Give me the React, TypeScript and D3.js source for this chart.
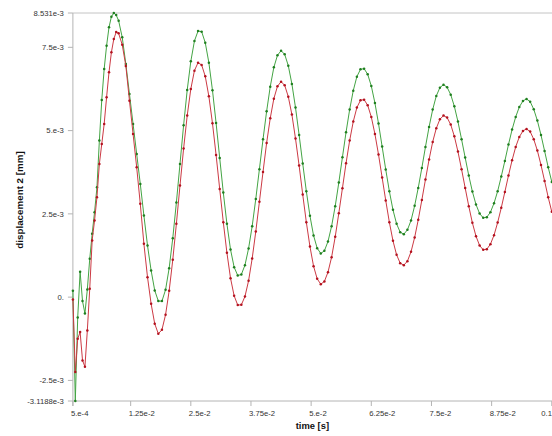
import React from "react";
import * as d3 from "d3";

// time axis (s): first part sampled every 5e-4 s, then every 7.5e-4 s
const timeEarly: number[] = d3.range(20).map((i) => 5e-4 + i * 5e-4);
const timeLate: number[] = d3.range(120).map((j) => 0.01075 + j * 7.5e-4);
const time: number[] = [...timeEarly, ...timeLate];

// displacement values in units of 1e-3 mm
const greenEarly = [0.19, -3.1188, -0.61, 0.76, -0.12, -0.49, 0.23, 1.15, 1.9, 2.55, 3.3, 4.7, 5.92, 6.85, 7.55, 8.1, 8.42, 8.531, 8.47, 8.3];
const greenLate = [
  7.8, 7.0, 6.1, 5.2, 4.3, 3.4, 2.45, 1.55, 0.8, 0.2, -0.12,
  -0.12, 0.22, 0.87, 1.77, 2.84, 4.0, 5.16, 6.22, 7.08, 7.69, 7.99,
  7.97, 7.64, 7.04, 6.21, 5.23, 4.18, 3.14, 2.2, 1.43, 0.9, 0.65,
  0.68, 0.96, 1.46, 2.13, 2.95, 3.84, 4.74, 5.58, 6.32, 6.9, 7.26, 7.4,
  7.29, 6.95, 6.4, 5.69, 4.87, 4.01, 3.18, 2.44, 1.85, 1.47, 1.31,
  1.39, 1.67, 2.13, 2.73, 3.44, 4.2, 4.95, 5.63, 6.2, 6.62, 6.84,
  6.86, 6.69, 6.34, 5.83, 5.21, 4.52, 3.83, 3.18, 2.62, 2.2, 1.95,
  1.89, 2.02, 2.3, 2.74, 3.28, 3.88, 4.51, 5.11, 5.63, 6.04, 6.29, 6.38,
  6.3, 6.08, 5.73, 5.27, 4.74, 4.19, 3.65, 3.17, 2.78, 2.51, 2.38,
  2.4, 2.55, 2.82, 3.18, 3.62, 4.09, 4.58, 5.03, 5.41, 5.71, 5.89,
  5.95, 5.87, 5.64, 5.3, 4.87, 4.39, 3.9, 3.46,
];
const redEarly = [-0.07, -2.25, -1.25, -1.05, -1.9, -2.09, -1.0, 0.25, 1.7, 2.3, 3.0, 4.0, 4.6, 5.2, 6.0, 6.75, 7.35, 7.75, 7.96, 7.92];
const redLate = [
  7.58, 6.94, 5.9, 4.9, 3.9, 2.8, 1.6, 0.6, -0.2, -0.8, -1.1,
  -0.98, -0.53, 0.19, 1.12, 2.2, 3.35, 4.46, 5.45, 6.25, 6.8, 7.04,
  6.97, 6.63, 6.03, 5.22, 4.27, 3.25, 2.25, 1.33, 0.57, 0.04, -0.24,
  -0.23, 0.02, 0.49, 1.16, 1.97, 2.86, 3.76, 4.63, 5.37, 5.96, 6.33, 6.47,
  6.36, 6.02, 5.48, 4.76, 3.95, 3.08, 2.25, 1.52, 0.93, 0.55, 0.39,
  0.47, 0.75, 1.2, 1.81, 2.52, 3.27, 4.02, 4.7, 5.27, 5.69, 5.91,
  5.93, 5.76, 5.41, 4.9, 4.28, 3.59, 2.9, 2.25, 1.69, 1.27, 1.02,
  0.96, 1.08, 1.36, 1.79, 2.32, 2.92, 3.53, 4.13, 4.66, 5.07, 5.34, 5.45,
  5.39, 5.18, 4.83, 4.37, 3.84, 3.28, 2.73, 2.23, 1.83, 1.55, 1.42,
  1.44, 1.59, 1.86, 2.24, 2.68, 3.16, 3.65, 4.11, 4.51, 4.81, 4.99,
  5.05, 4.97, 4.74, 4.4, 3.97, 3.49, 3.0, 2.56,
];
const greenSeries = [...greenEarly, ...greenLate];
const redSeries = [...redEarly, ...redLate];

const yTickValues = [8.531, 7.5, 5, 2.5, 0, -2.5, -3.1188];
const yTickLabels = ["8.531e-3", "7.5e-3", "5.e-3", "2.5e-3", "0.", "-2.5e-3", "-3.1188e-3"];
const xTickValues = [5e-4, 1.25e-2, 2.5e-2, 3.75e-2, 5e-2, 6.25e-2, 7.5e-2, 8.75e-2, 0.1];
const xTickLabels = ["5.e-4", "1.25e-2", "2.5e-2", "3.75e-2", "5.e-2", "6.25e-2", "7.5e-2", "8.75e-2", "0.1"];

const W = 552;
const H = 436;
const left = 72.9;
const right = 551.8;
const top = 13;
const bottom = 401;

export default function App() {
  const x = d3.scaleLinear().domain([5e-4, 0.1]).range([left, right]);
  const y = d3.scaleLinear().domain([-3.1188, 8.531]).range([bottom, top]);
  const line = d3
    .line<number>()
    .x((_, i) => x(time[i]))
    .y((d) => y(d));

  const series = [
    { data: greenSeries, line: "#44a444", dot: "#1f7f1f" },
    { data: redSeries, line: "#cc3a44", dot: "#b3121f" },
  ];
  const font = "'Liberation Sans', Arial, sans-serif";

  return (
    <div style={{ position: "fixed", left: 0, top: 0, width: W, height: H, background: "#fff" }}>
      <svg width={W} height={H} style={{ display: "block" }}>
        <rect x={0} y={0} width={W} height={H} fill="#fff" />
        {/* frame */}
        <line x1={left} x2={W} y1={top} y2={top} stroke="#c4c4c4" strokeWidth={1} />
        <line x1={left} x2={left} y1={top} y2={bottom + 5} stroke="#b4b4b4" strokeWidth={1} />
        <line x1={left} x2={W} y1={bottom} y2={bottom} stroke="#b4b4b4" strokeWidth={1} />
        {/* y ticks */}
        {yTickValues.map((v, i) => (
          <g key={"y" + i}>
            <line x1={left - 5} x2={left} y1={y(v)} y2={y(v)} stroke="#b4b4b4" />
            <text
              x={left - 9}
              y={y(v)}
              dy="0.35em"
              textAnchor="end"
              fontFamily={font}
              fontSize={7.7}
              fill="#333"
            >
              {yTickLabels[i]}
            </text>
          </g>
        ))}
        {/* x ticks */}
        {xTickValues.map((v, i) => {
          const last = i === xTickValues.length - 1;
          return (
            <g key={"x" + i}>
              <line x1={x(v)} x2={x(v)} y1={bottom} y2={bottom + 5} stroke="#b4b4b4" />
              <text
                x={last ? W : x(v) - 2}
                y={bottom + 12}
                dy="0.35em"
                textAnchor={last ? "end" : "start"}
                fontFamily={font}
                fontSize={7.7}
                fill="#333"
              >
                {xTickLabels[i]}
              </text>
            </g>
          );
        })}
        {/* axis titles */}
        <text
          x={(left + right) / 2}
          y={426}
          dy="0.35em"
          textAnchor="middle"
          fontFamily={font}
          fontSize={9.4}
          fontWeight="bold"
          fill="#111"
        >
          time [s]
        </text>
        <text
          transform={`translate(20,200) rotate(-90)`}
          textAnchor="middle"
          dy="0.35em"
          fontFamily={font}
          fontSize={9.8}
          fontWeight="bold"
          fill="#111"
        >
          displacement 2 [mm]
        </text>
        {/* series */}
        {series.map((s, k) => (
          <g key={"s" + k}>
            <path d={line(s.data) || ""} fill="none" stroke={s.line} strokeWidth={1} />
            {s.data.map((v, i) => (
              <circle key={i} cx={x(time[i])} cy={y(v)} r={1.25} fill={s.dot} />
            ))}
          </g>
        ))}
      </svg>
    </div>
  );
}
